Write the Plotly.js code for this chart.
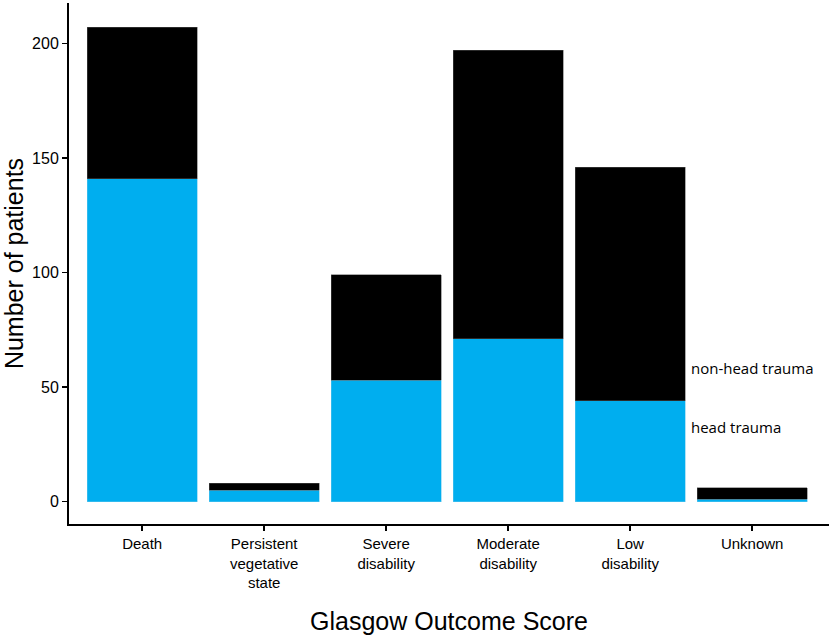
<!DOCTYPE html>
<html>
<head>
<meta charset="utf-8">
<script src="https://cdn.plot.ly/plotly-3.0.1.min.js"></script>
<style>
  html, body { margin: 0; padding: 0; background: #fff; }
  #chart { width: 829px; height: 635px; }
</style>
</head>
<body>
<div id="chart"></div>
<script>
// Glasgow Outcome Score categories
var categories = ['Death', 'Persistent<br>vegetative<br>state', 'Severe<br>disability',
                  'Moderate<br>disability', 'Low<br>disability', 'Unknown'];
var headTrauma = [141, 5, 53, 71, 44, 1];
var nonHeadTrauma = [66, 3, 46, 126, 102, 5];

var tickVals = [0, 50, 100, 150, 200];

var trace1 = {
  x: categories,
  y: headTrauma,
  name: 'head trauma',
  type: 'bar',
  marker: {color: '#00AEEF', line: {color: '#5FC6EE', width: 0.5}}
};

var trace2 = {
  x: categories,
  y: nonHeadTrauma,
  name: 'non-head trauma',
  type: 'bar',
  marker: {color: '#000000', line: {color: '#555555', width: 0.5}}
};

var layout = {
  width: 829,
  height: 635,
  barmode: 'stack',
  bargap: 0.1,
  showlegend: false,
  paper_bgcolor: '#ffffff',
  plot_bgcolor: '#ffffff',
  margin: {l: 69, r: 0, t: 3, b: 111},
  font: {family: 'Liberation Sans, Arial, sans-serif', color: '#000'},
  xaxis: {
    type: 'category',
    range: [-0.6, 5.63],
    showline: true,
    linecolor: '#000',
    linewidth: 2,
    ticks: 'outside',
    ticklen: 5,
    tickwidth: 1.5,
    tickcolor: '#000',
    showgrid: false,
    zeroline: false,
    tickfont: {size: 15, color: '#000'},
    title: {text: 'Glasgow Outcome Score', font: {size: 25, color: '#000'}, standoff: 22}
  },
  yaxis: {
    range: [-9.73, 217.6],
    tickvals: tickVals,
    showline: true,
    linecolor: '#000',
    linewidth: 2,
    ticks: 'outside',
    ticklen: 5,
    tickwidth: 1.5,
    tickcolor: '#000',
    showgrid: false,
    zeroline: false,
    tickfont: {size: 16, color: '#000'},
    title: {text: 'Number of patients', font: {size: 25, color: '#000'}, standoff: 10}
  },
  annotations: [
    {x: 4.48, y: 58.3, xref: 'x', yref: 'y', xanchor: 'left', yanchor: 'middle',
     text: 'non-head trauma', showarrow: false,
     font: {family: 'Open Sans, Lato, sans-serif', size: 15, color: '#000'}},
    {x: 4.48, y: 32.7, xref: 'x', yref: 'y', xanchor: 'left', yanchor: 'middle',
     text: 'head trauma', showarrow: false,
     font: {family: 'Open Sans, Lato, sans-serif', size: 15, color: '#000'}}
  ]
};

Plotly.newPlot('chart', [trace1, trace2], layout, {displayModeBar: false, staticPlot: true});
</script>
</body>
</html>
